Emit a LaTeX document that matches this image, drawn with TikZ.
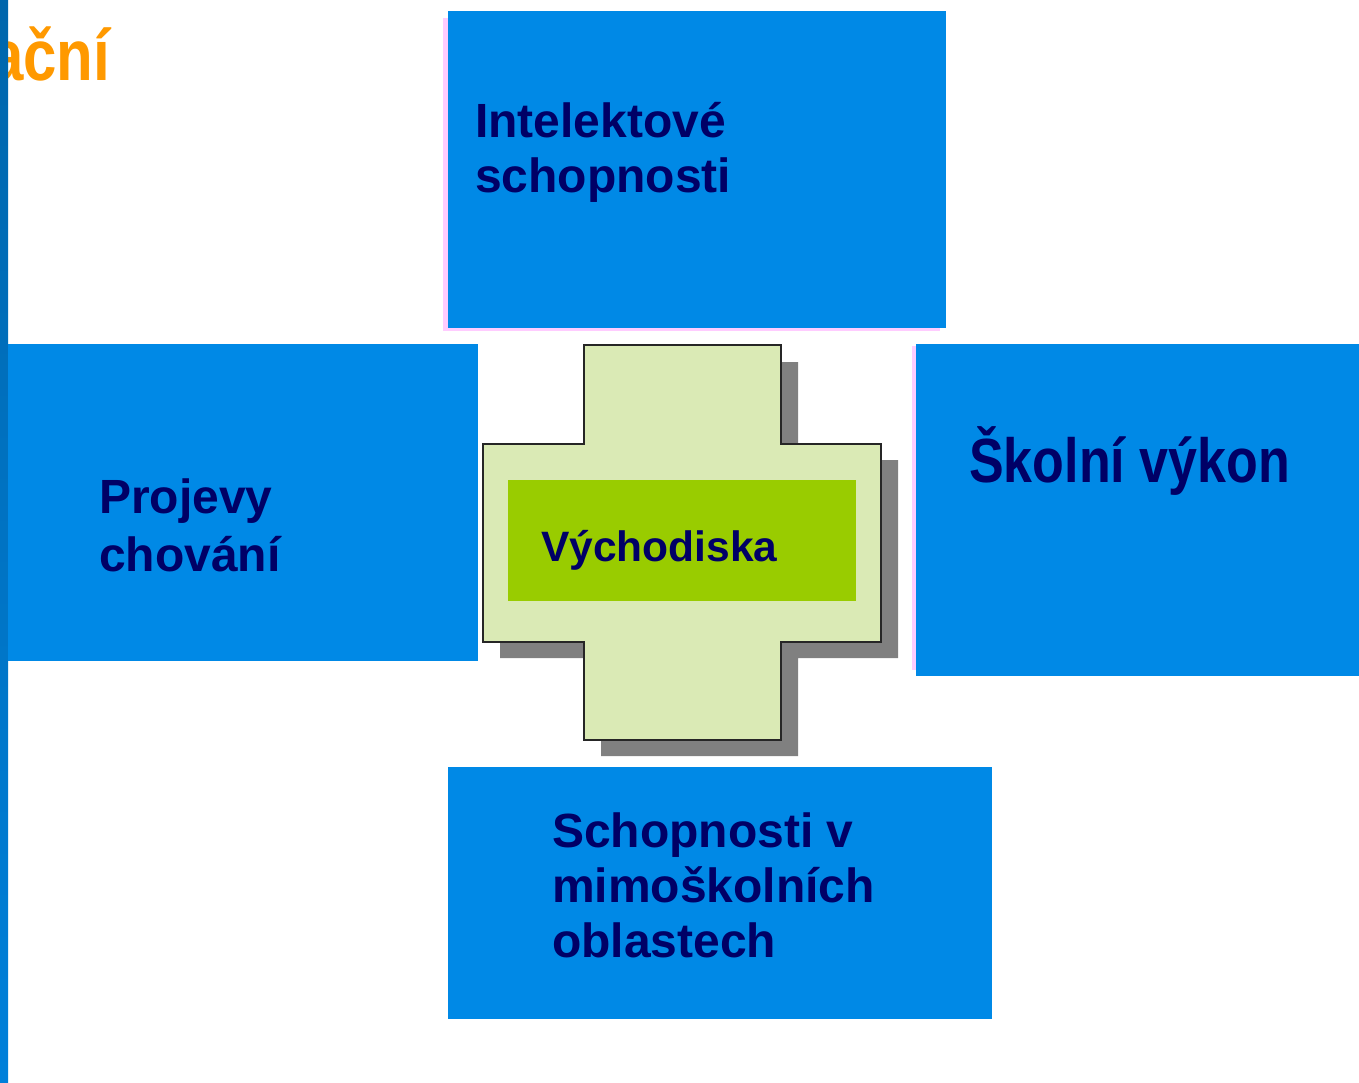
\documentclass[tikz,border=0pt]{standalone}
\usepackage{fontspec}
\setmainfont{Liberation Sans}
\definecolor{boxblue}{RGB}{0,137,230}
\definecolor{navy}{RGB}{0,0,102}
\definecolor{crossfill}{RGB}{218,234,181}
\definecolor{innergreen}{RGB}{153,204,0}
\definecolor{orangetxt}{RGB}{255,153,0}
\definecolor{pinkedge}{RGB}{255,204,255}
\definecolor{bartop}{RGB}{0,102,172}
\definecolor{barbot}{RGB}{0,128,218}
\begin{document}
\begin{tikzpicture}[x=1pt,y=-1pt,
  bluebox/.style={fill=boxblue,draw=none,inner sep=0pt,outer sep=0pt,anchor=north west},
  pinkbox/.style={fill=pinkedge,draw=none,inner sep=0pt,outer sep=0pt,anchor=north west},
  lbl/.style={text=navy,font=\bfseries\fontsize{48}{55}\selectfont,align=left,inner sep=0pt,anchor=base west}]
\useasboundingbox (0,0) rectangle (1359,1082);
% orange title fragment
\node[text=orangetxt,font=\bfseries\fontsize{60}{60}\selectfont,inner sep=0pt,anchor=base west,yscale=1.2] (title) at (-10,80) {ační};
% left bar
\shade[top color=bartop,bottom color=barbot] (0,0) rectangle (8,1082);
% pink edges
\node[pinkbox,minimum width=6pt,minimum height=310pt] (pinkA) at (443,18) {};
\node[pinkbox,minimum width=497pt,minimum height=3pt] (pinkB) at (443,328) {};
\node[pinkbox,minimum width=6pt,minimum height=324pt] (pinkC) at (912,346) {};
% blue boxes
\node[bluebox,minimum width=498pt,minimum height=317pt] (boxtop) at (448,11) {};
\node[bluebox,minimum width=470pt,minimum height=317pt] (boxleft) at (8,344) {};
\node[bluebox,minimum width=443pt,minimum height=332pt] (boxright) at (916,344) {};
\node[bluebox,minimum width=544pt,minimum height=252pt] (boxbottom) at (448,767) {};
% texts (anchored at the baseline of the last line)
\node[lbl] (ttop) at (475,192) {Intelektové\\schopnosti};
\node[lbl,font=\bfseries\fontsize{48}{58}\selectfont] (tleft) at (99,571) {Projevy\\chování};
\node[lbl,font=\bfseries\fontsize{52}{60}\selectfont,yscale=1.2] (tright) at (969,482) {Školní výkon};
\node[lbl] (tbottom) at (552,957) {Schopnosti v\\mimoškolních\\oblastech};
% cross shadow
\fill[black!50] (601,362) -- (798,362) -- (798,460) -- (898,460) -- (898,658) -- (798,658) -- (798,756) -- (601,756) -- (601,658) -- (500,658) -- (500,460) -- (601,460) -- cycle;
% cross
\draw[fill=crossfill,draw=black!85,line width=1.3pt] (584,345) -- (781,345) -- (781,444) -- (881,444) -- (881,642) -- (781,642) -- (781,740) -- (584,740) -- (584,642) -- (483,642) -- (483,444) -- (584,444) -- cycle;
\node[fill=innergreen,inner sep=0pt,outer sep=0pt,anchor=north west,minimum width=348pt,minimum height=121pt] (inner) at (508,480) {};
\node[text=navy,font=\bfseries\fontsize{42.5}{50}\selectfont,inner sep=0pt,anchor=base west] (tcenter) at (541,561) {Východiska};
\end{tikzpicture}
\end{document}
